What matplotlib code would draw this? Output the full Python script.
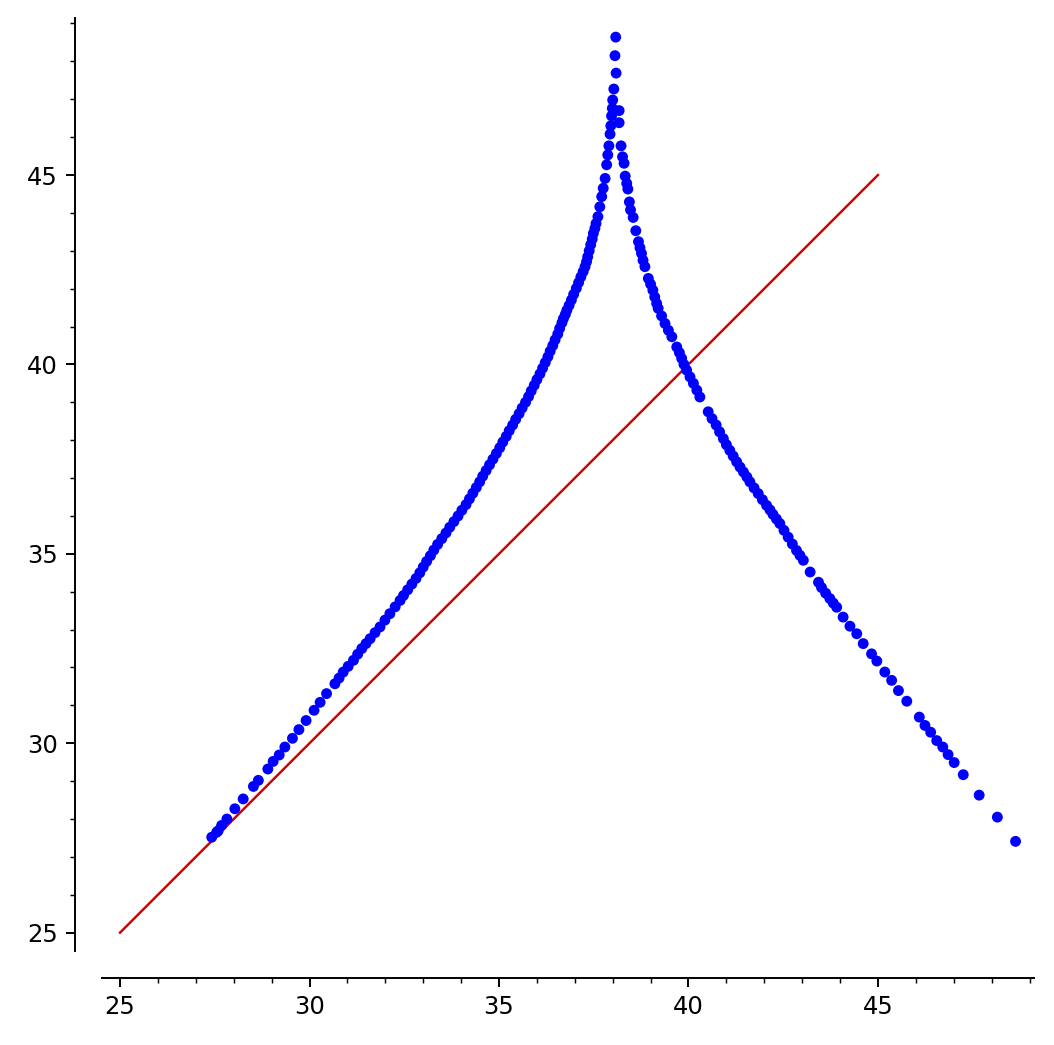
import matplotlib
matplotlib.use("Agg")
import matplotlib.pyplot as plt
from matplotlib.ticker import MultipleLocator

# left branch of the point cloud (bottom -> peak)
left_x = [27.42, 27.55, 27.59, 27.68, 27.82, 28.03, 28.25, 28.52, 28.65, 28.90,
          29.04, 29.20, 29.35, 29.55, 29.72, 29.91, 30.12, 30.28, 30.45,
          30.67, 30.78, 30.89, 31.02, 31.16, 31.27, 31.38, 31.49, 31.60, 31.73,
          31.86, 31.99, 32.12, 32.26, 32.39,
          32.48, 32.59, 32.70, 32.81, 32.91, 33.00, 33.09, 33.19, 33.28, 33.38,
          33.49, 33.60, 33.70, 33.81, 33.92, 34.02, 34.13, 34.22, 34.31, 34.40,
          34.49, 34.57, 34.66, 34.75, 34.84, 34.93, 35.02, 35.10, 35.19, 35.27,
          35.36, 35.44, 35.53, 35.61, 35.70, 35.78, 35.85, 35.93, 36.00, 36.08,
          36.15, 36.22, 36.29, 36.35, 36.42, 36.48, 36.55, 36.60, 36.66,
          36.70, 36.75, 36.79, 36.85, 36.91, 36.97, 37.04, 37.10, 37.16, 37.22,
          37.27, 37.31, 37.34, 37.38, 37.42, 37.46, 37.49, 37.53, 37.56,
          37.61, 37.66, 37.71, 37.75, 37.80, 37.84, 37.87, 37.90, 37.93, 37.95,
          37.97, 37.99, 38.00, 38.03, 38.09, 38.06, 38.08]
left_y = [27.52, 27.65, 27.69, 27.83, 28.00, 28.27, 28.53, 28.86, 29.02, 29.32,
          29.52, 29.69, 29.90, 30.13, 30.36, 30.60, 30.87, 31.08, 31.31,
          31.57, 31.72, 31.88, 32.03, 32.19, 32.35, 32.50, 32.63, 32.76, 32.92,
          33.07, 33.25, 33.42, 33.60, 33.77,
          33.90, 34.05, 34.20, 34.35, 34.50, 34.65, 34.80, 34.95, 35.10, 35.25,
          35.40, 35.55, 35.70, 35.85, 36.00, 36.15, 36.30, 36.45, 36.60, 36.75,
          36.90, 37.05, 37.20, 37.35, 37.50, 37.65, 37.80, 37.95, 38.10, 38.25,
          38.40, 38.55, 38.70, 38.85, 39.00, 39.15, 39.30, 39.45, 39.60, 39.75,
          39.90, 40.05, 40.20, 40.35, 40.50, 40.65, 40.80, 40.95, 41.10,
          41.21, 41.32, 41.43, 41.56, 41.70, 41.85, 42.01, 42.16, 42.31, 42.45,
          42.58, 42.71, 42.84, 43.00, 43.16, 43.31, 43.46, 43.59, 43.72,
          43.90, 44.16, 44.43, 44.65, 44.91, 45.27, 45.53, 45.77, 46.08, 46.30,
          46.56, 46.76, 46.98, 47.27, 47.69, 48.15, 48.64]

# right branch (peak -> bottom right)
right_x = [38.17, 38.17, 38.22, 38.26, 38.30, 38.33, 38.37, 38.40, 38.44, 38.47,
           38.54, 38.61, 38.68, 38.72, 38.76, 38.80, 38.85, 38.94, 39.00, 39.06,
           39.11, 39.16, 39.20, 39.29, 39.38, 39.47, 39.56, 39.69, 39.76, 39.82,
           39.88, 39.95, 40.04, 40.13, 40.22, 40.30, 40.52, 40.62, 40.73, 40.82,
           40.92, 41.00, 41.09, 41.18, 41.27, 41.36, 41.45, 41.54, 41.62, 41.73,
           41.84, 41.95, 42.06, 42.15, 42.23, 42.32, 42.41, 42.52, 42.63, 42.74,
           42.85, 42.94, 43.03, 43.21, 43.43, 43.51, 43.62, 43.73, 43.82, 43.91,
           44.08, 44.26, 44.44, 44.61, 44.83, 44.97, 45.18, 45.36, 45.54, 45.76,
           46.09, 46.24, 46.39, 46.55, 46.71, 46.85, 47.01, 47.25, 47.67, 48.15,
           48.63]
right_y = [46.70, 46.38, 45.77, 45.48, 45.31, 44.97, 44.78, 44.63, 44.29, 44.08,
           43.88, 43.53, 43.24, 43.08, 42.93, 42.75, 42.58, 42.27, 42.12, 41.96,
           41.78, 41.61, 41.48, 41.28, 41.08, 40.90, 40.73, 40.46, 40.31, 40.16,
           40.00, 39.85, 39.67, 39.50, 39.32, 39.14, 38.75, 38.57, 38.40, 38.22,
           38.04, 37.88, 37.73, 37.58, 37.43, 37.29, 37.16, 37.03, 36.90, 36.74,
           36.59, 36.43, 36.28, 36.16, 36.04, 35.92, 35.80, 35.62, 35.44, 35.26,
           35.09, 34.96, 34.83, 34.52, 34.25, 34.11, 33.96, 33.82, 33.70, 33.59,
           33.33, 33.09, 32.89, 32.63, 32.36, 32.17, 31.88, 31.66, 31.39, 31.11,
           30.69, 30.47, 30.29, 30.07, 29.90, 29.70, 29.49, 29.17, 28.63, 28.05,
           27.41]

# diagonal reference line
diag_x = [25, 45]
diag_y = [25, 45]

dpi = 175
fig = plt.figure(figsize=(1054 / dpi, 1045 / dpi), dpi=dpi)
ax = fig.add_axes([0.0965, 0.0900, 0.8845, 0.8925])

ax.plot(diag_x, diag_y, color="#d00000", lw=1.0, zorder=1)
ax.scatter(left_x + right_x, left_y + right_y, s=20, color="blue",
           edgecolors="none", zorder=2)

ax.set_xlim(24.517, 49.116)
ax.set_ylim(24.517, 49.137)

# sage-like offset axes
ax.spines["top"].set_visible(False)
ax.spines["right"].set_visible(False)
ax.spines["left"].set_position(("outward", 11.0))
ax.spines["bottom"].set_position(("outward", 11.2))

ax.xaxis.set_major_locator(MultipleLocator(5))
ax.xaxis.set_minor_locator(MultipleLocator(1))
ax.yaxis.set_major_locator(MultipleLocator(5))
ax.yaxis.set_minor_locator(MultipleLocator(1))

fig.savefig("out.png", dpi=dpi)
